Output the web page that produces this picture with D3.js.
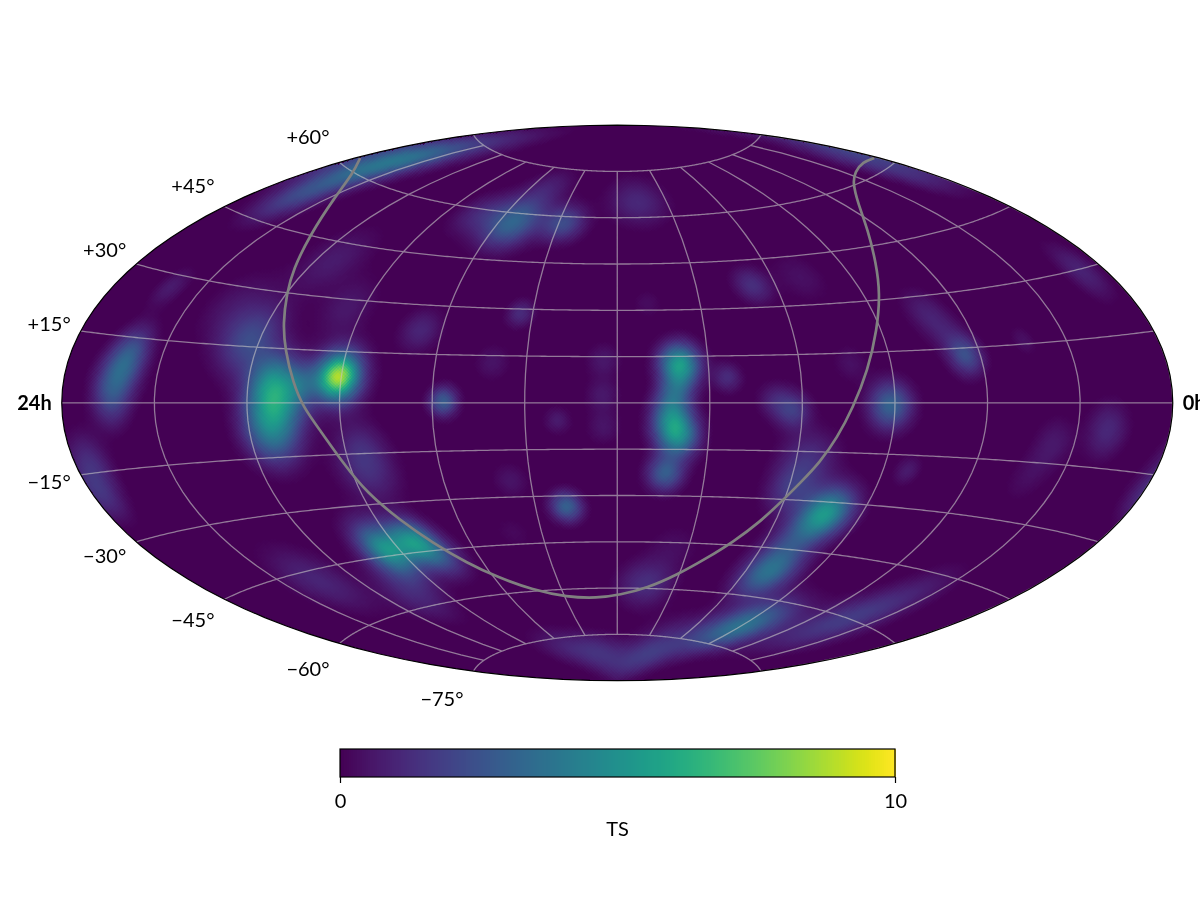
<!doctype html>
<html lang="en">
<head>
  <meta charset="utf-8">
  <title>TS sky map</title>
  <script src="https://d3js.org/d3.v7.min.js"></script>
  <style>
    body { margin: 0; background: #fff; }
    #chart { position: relative; width: 1200px; height: 900px; overflow: hidden; }
    canvas, svg { position: absolute; left: 0; top: 0; }
    text { font-family: Lato, sans-serif; fill: #000; }
  </style>
</head>
<body>
  <div id="chart"></div>
  <script>
    // Hot spots of the TS map: RA and Dec in degrees, peak TS, width in degrees
    const spotRa = [
      271.1,271.1,290.9,303.2,293.5,292.6,343.8,341.4,340.2,344.4,
      355.1,356,341.1,314.8,341.6,346.7,343.3,342.7,338.8,335.4,
      293.8,276,247.5,214.5,233.5,207.8,231.7,253.2,167.9,128.8,
      169.2,109.2,159.6,160.2,162.2,160.1,163.7,162.9,144.2,184.7,
      184.9,184.6,221.3,236.5,199.6,217.1,198.8,221.2,261.8,275,
      256,275.8,279.2,315.6,287.5,264.8,264.7,165.7,156.5,202.6,
      138.1,164,237.9,109.7,94.7,86,127.9,47.6,42.3,37.5,
      110.5,103.3,116.4,123,128.9,119.3,109,91.6,82,65,
      72.4,69.2,44.2,7.9,8.3,20.5,37,41.1,0.9,103.4,
      9.1,9.2,7.2,228.9,282.7];
    const spotDec = [
      7.8,7.8,0.8,16.8,-8.8,7.7,4,9.3,13.3,-0.9,
      -12.8,-20.2,27.1,24.7,65.6,61.5,54.9,49.8,69.4,77.1,
      40.1,27.8,22.3,28.7,56.2,57.9,62.2,58.8,65,37.1,
      32.3,38.6,12.9,5.8,-5.5,-11.3,-22.6,0.9,8.3,13.9,
      2.6,-7.8,13,0.6,-5.5,-24.6,-33.3,-41.1,-41.3,-43.3,
      -46.8,-38.6,-50,-47.5,-57.8,-19.9,-11.9,-58.3,-46.4,-79.9,
      -80.6,-85.5,-78,-52.6,-70.4,-65,-74.8,-63.7,-56.8,-48.9,
      -45.3,-33.3,-17.6,-2.2,0.9,-27,-38.9,-0.6,-19.3,13.1,
      26.1,20.2,16,31.5,27.4,-6.2,-9.9,-18.7,-19,12,
      66.6,60.5,55.2,69.5,5.8];
    const spotTs = [
      5.6,3.4,5,2.4,3,2,2,2.2,1,0.9,
      1.4,0.9,0.9,0.7,1.7,1.7,1.4,1,1.3,0.8,
      0.9,0.8,1.2,1.4,3,2.4,0.8,1.2,1.3,1.5,
      0.5,0.6,5.4,2,3.8,3.8,3,1.8,1.4,0.8,
      0.8,0.7,0.7,3,0.9,0.7,3.2,0.4,4.6,3.8,
      2,1.2,1.4,1.2,0.9,1.4,0.8,1.5,0.5,1.1,
      1.1,0.8,1,3.4,2.6,2,1,1.4,0.9,0.7,
      1.2,5.2,1.5,1.8,1.1,1.5,0.8,3.3,0.9,2.5,
      0.8,0.7,0.6,0.7,0.6,1.3,0.8,0.5,0.7,0.6,
      0.8,0.9,0.7,0.8,1.5];
    const spotWidth = [
      4.2,6,6.5,6.5,6,5,4.5,4.5,3.9,3.9,
      4.5,3.9,3.2,6.5,5.2,5.2,5.2,4.5,5.2,5.2,
      6.5,5.8,4.5,3,5.2,4,4.5,4.5,5.2,3.9,
      3.2,5.2,4.5,3.9,4.6,4.6,4,3.9,3.2,3.9,
      3.9,3.9,3.9,3.2,3,3.9,3.4,3.9,4.5,4.5,
      4.5,5.2,5.2,6.5,5.2,6.5,5.2,5.2,5.2,4,
      4,4,4.5,5.2,5.2,5.2,5.2,6.5,5.2,5.2,
      5.2,5.4,6.5,3.9,3.9,5.2,5.2,4.8,2.9,3.8,
      4.5,4.5,2.6,3.9,3.9,4.5,4.5,4.5,3.9,3.9,
      3.9,3.9,3.9,3.9,4];

    // Grey curve across the map, RA and Dec in degrees
    const curveRa = [358.4,343.7,328.3,313.3,304.7,299.9,294.8,290.4,285.4,281.8,277,272,268,261.6,254.9,247,238.3,225.1,208.8,191.8,178.4,164.1,150.9,140.4,132.6,125.6,120.5,116.6,111.9,107.9,103.6,97.9,91.3,83.7,76.7,65.8,52.9,37.7,25.2,10.4,1.7];
    const curveDec = [62.3,59.9,54.5,45.1,36,29.9,21.9,14.7,5.6,-1.2,-7.8,-17.5,-26.6,-35.2,-42.8,-49.6,-54.7,-59.6,-62.5,-63.2,-62.2,-59.9,-55.3,-49.5,-44,-37.3,-30.2,-24.7,-18.1,-10.6,-1.5,9.8,21.4,31.9,40.3,49.2,56.1,60.5,62.2,62.9,62.3];

    const decLabels = [60, 45, 30, 15, -15, -30, -45, -60, -75];
    const raLabels = ["24h", "0h"];
    const colorTicks = [0, 10];

    const w = 1200;
    const h = 900;
    const cellSize = 3.1;  // the map is made of little diamonds

    // Aitoff, d3 core has no such projection
    const aitoffRaw = (lam, phi) => {
      const c = Math.cos(phi);
      const alpha = Math.acos(c * Math.cos(lam / 2));
      const sinc = alpha < 1e-9 ? 1 : Math.sin(alpha) / alpha;
      return [2 * c * Math.sin(lam / 2) / sinc, Math.sin(phi) / sinc];
    };
    aitoffRaw.invert = (x, y) => {
      // start from the Hammer answer, which is close, then Newton
      const u = x / Math.PI;
      const v = y / (Math.PI / 2);
      const z = Math.sqrt(Math.max(0.01, 1 - u * u / 2 - v * v / 2));
      let lam = 2 * Math.atan2(Math.SQRT2 * z * u, 2 * z * z - 1);
      let phi = Math.asin(Math.max(-1, Math.min(1, Math.SQRT2 * z * v)));
      const e = 1e-5;
      for (let i = 0; i < 8; i++) {
        const f = aitoffRaw(lam, phi);
        const fl = aitoffRaw(lam + e, phi);
        const fp = aitoffRaw(lam, phi + e);
        const a = (fl[0] - f[0]) / e, b = (fp[0] - f[0]) / e;
        const c = (fl[1] - f[1]) / e, d = (fp[1] - f[1]) / e;
        const det = a * d - b * c;
        lam += (d * (x - f[0]) - b * (y - f[1])) / det;
        phi += (a * (y - f[1]) - c * (x - f[0])) / det;
      }
      return [lam, phi];
    };

    // RA grows to the left, 12h in the middle
    const projection = d3.geoProjection(aitoffRaw)
      .rotate([-180, 0])
      .reflectX(true)
      .scale(555.5 / Math.PI)
      .translate([617.25, 402.9])
      .precision(0.2);
    const path = d3.geoPath(projection);
    const color = d3.scaleSequential(d3.interpolateViridis).domain([0, 10]);

    const chart = d3.select("#chart");

    function tsAt(point) {
      let sum = -0.2;
      spotRa.forEach((ra, i) => {
        const dist = d3.geoDistance(point, [ra, spotDec[i]]) * 180 / Math.PI;
        const s = spotWidth[i];
        if (dist < 4 * s) sum += spotTs[i] * Math.exp(-dist * dist / (2 * s * s));
      });
      return Math.max(0, sum) || 0;
    }

    function drawMap() {
      const canvas = chart.append("canvas").attr("width", w).attr("height", h).node();
      const ctx = canvas.getContext("2d");
      const image = ctx.createImageData(w, h);
      const cells = new Map();
      for (let y = 120; y < 686; y++) {
        for (let x = 58; x < 1178; x++) {
          const a = Math.floor((x + y) / cellSize);
          const b = Math.floor((x - y) / cellSize);
          const key = a * 10000 + b;
          let rgb = cells.get(key);
          if (!rgb) {
            const cx = (a + b + 1) * cellSize / 2;
            const cy = (a - b) * cellSize / 2;
            const u = (cx - 617.25) / 555.5;
            const v = (cy - 402.9) / 277.8;
            const inside = u * u + v * v < 1;
            rgb = d3.rgb(color(inside ? tsAt(projection.invert([cx, cy])) : 0));
            cells.set(key, rgb);
          }
          const i = (y * w + x) * 4;
          image.data[i] = rgb.r;
          image.data[i + 1] = rgb.g;
          image.data[i + 2] = rgb.b;
          image.data[i + 3] = 255;
        }
      }
      ctx.putImageData(image, 0, 0);
    }

    drawMap();

    const svg = chart.append("svg").attr("width", w).attr("height", h);

    // white outside of the ellipse, so that the square of cells is cut to shape
    svg.append("path")
      .attr("d", `M0,0H${w}V${h}H0Z` + path({ type: "Sphere" }))
      .attr("fill", "#fff")
      .attr("fill-rule", "evenodd");

    const graticule = d3.geoGraticule()
      .extent([[-180, -75.001], [180, 75.001]])
      .step([30, 15])
      .precision(1);

    svg.append("path")
      .datum(graticule())
      .attr("d", path)
      .attr("fill", "none")
      .attr("stroke", "#c4c4c4")
      .attr("stroke-opacity", 0.62)
      .attr("stroke-width", 1.3);

    const line = d3.line().curve(d3.curveBasis)
      .x(d => projection(d)[0])
      .y(d => projection(d)[1]);
    svg.append("path")
      .attr("d", line(curveRa.map((ra, i) => [ra, curveDec[i]])))
      .attr("fill", "none")
      .attr("stroke", "#808080")
      .attr("stroke-width", 2.7);

    svg.append("path")
      .datum({ type: "Sphere" })
      .attr("d", path)
      .attr("fill", "none")
      .attr("stroke", "#000")
      .attr("stroke-width", 1.2);

    // Dec labels sit left of the rim and move away from the equator
    decLabels.forEach(dec => {
      const rim = projection([359.999, dec]);
      svg.append("text")
        .attr("x", rim[0] - 10)
        .attr("y", rim[1] - 29 * Math.sin(dec * Math.PI / 180))
        .attr("dy", "0.35em")
        .attr("text-anchor", "end")
        .attr("font-size", 20)
        .text((dec > 0 ? "+" : "\u2212") + Math.abs(dec) + "\u00b0");
    });

    raLabels.forEach((label, i) => {
      const rim = projection(i === 0 ? [359.999, 0] : [0.001, 0]);
      svg.append("text")
        .attr("x", rim[0] + (i === 0 ? -10 : 10))
        .attr("y", rim[1])
        .attr("dy", "0.35em")
        .attr("text-anchor", i === 0 ? "end" : "start")
        .attr("font-size", 20)
        .attr("font-weight", 700)
        .text(label);
    });

    // Colour bar
    const barX = d3.scaleLinear().domain(colorTicks).range([340, 895]);
    const barTop = 749;
    const barHeight = 28;
    const bar = svg.append("g").attr("shape-rendering", "crispEdges");
    bar.selectAll("rect")
      .data(d3.range(0, 10, 10 / 256))
      .join("rect")
      .attr("x", d => barX(d))
      .attr("y", barTop)
      .attr("width", 555 / 256 + 1)
      .attr("height", barHeight)
      .attr("fill", d => color(d));
    svg.append("rect")
      .attr("x", barX(0))
      .attr("y", barTop)
      .attr("width", barX(10) - barX(0))
      .attr("height", barHeight)
      .attr("fill", "none")
      .attr("stroke", "#000")
      .attr("stroke-width", 1.2);

    const barAxis = d3.axisBottom(barX).tickValues(colorTicks).tickSize(6).tickFormat(d3.format("d"));
    const axisGroup = svg.append("g")
      .attr("transform", `translate(0, ${barTop + barHeight})`)
      .call(barAxis);
    axisGroup.select(".domain").remove();
    axisGroup.selectAll("line").attr("stroke", "#000").attr("stroke-width", 1.2);
    axisGroup.selectAll("text")
      .attr("y", 24)
      .attr("dy", "0.35em")
      .attr("font-size", 20)
      .attr("font-family", "Lato, sans-serif")
      .attr("fill", "#000");

    svg.append("text")
      .attr("x", 617.5)
      .attr("y", 829)
      .attr("dy", "0.35em")
      .attr("text-anchor", "middle")
      .attr("font-size", 20)
      .text("TS");
  </script>
</body>
</html>
